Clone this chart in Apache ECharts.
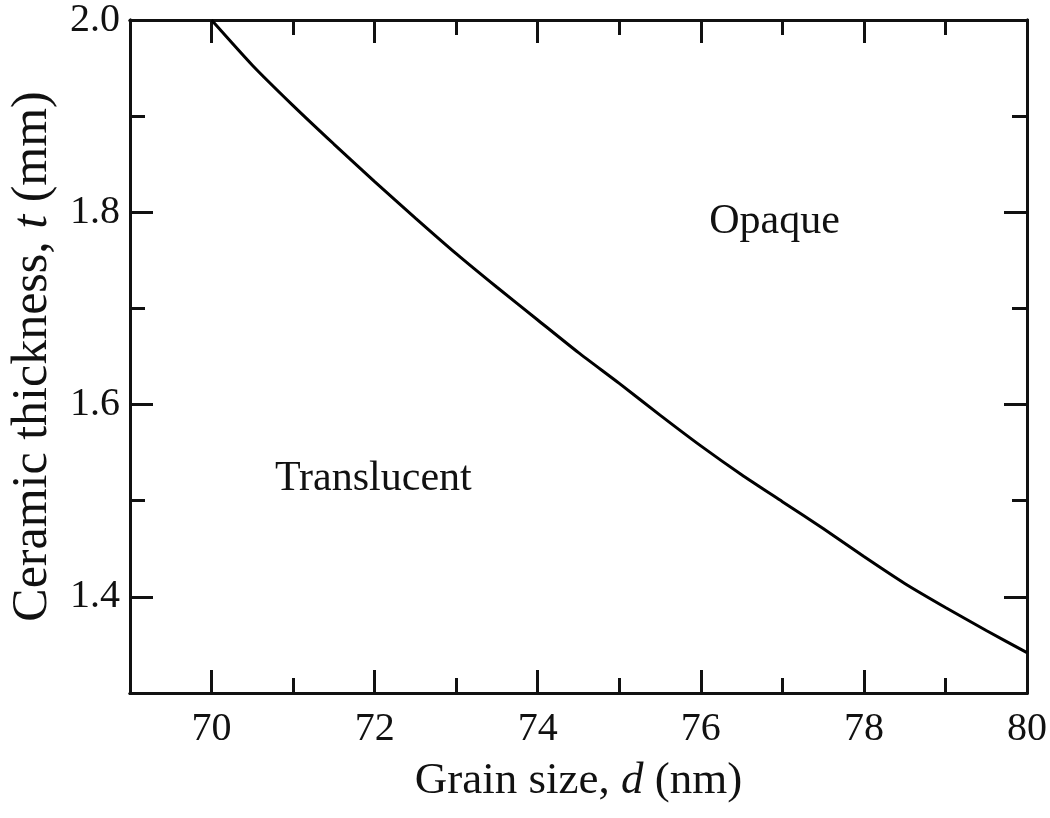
<!DOCTYPE html>
<html>
<head>
<meta charset="utf-8">
<script src="https://cdn.jsdelivr.net/npm/echarts@6/dist/echarts.min.js"></script>
<style>
html,body{margin:0;padding:0;background:#fff;}
#chart{width:1050px;height:818px;}
</style>
</head>
<body>
<div id="chart"></div>
<script>
// Data
const grainSize = [70, 70.5, 71, 71.5, 72, 72.5, 73, 73.5, 74, 74.5, 75, 75.5, 76, 76.5, 77, 77.5, 78, 78.5, 79, 79.5, 80];
const thickness = [2.000, 1.953, 1.911, 1.871, 1.832, 1.794, 1.757, 1.722, 1.688, 1.654, 1.622, 1.589, 1.557, 1.527, 1.499, 1.471, 1.442, 1.414, 1.389, 1.365, 1.342];
const xMajorTicks = [70, 72, 74, 76, 78, 80];
const xMinorTicks = [69, 71, 73, 75, 77, 79];
const yMajorTicks = [1.4, 1.6, 1.8, 2.0];
const yMinorTicks = [1.3, 1.5, 1.7, 1.9];
const regionNames = ['Opaque', 'Translucent'];
const regionX = [76.91, 71.99];
const regionY = [1.789, 1.522];

const FONT = "'Liberation Serif', 'DejaVu Serif', serif";
const lineStyle = { color: '#111', width: 3 };
const X = { min: 69, max: 80 };
const Y = { min: 1.3, max: 2.0 };

function xAx(pos, ticks, len, labels, extra) {
  return Object.assign({
    type: 'value', position: pos, min: X.min, max: X.max,
    axisLine: { show: true, onZero: false, lineStyle: lineStyle },
    axisTick: { show: true, inside: true, length: len, customValues: ticks, lineStyle: { color: '#111', width: 3 } },
    axisLabel: labels ? { show: true, customValues: ticks, margin: 16, color: '#111', fontFamily: FONT, fontSize: 40 } : { show: false },
    splitLine: { show: false }
  }, extra || {});
}
function yAx(pos, ticks, len, labels, extra) {
  return Object.assign({
    type: 'value', position: pos, min: Y.min, max: Y.max,
    axisLine: { show: true, onZero: false, lineStyle: lineStyle },
    axisTick: { show: true, inside: true, length: len, customValues: ticks, lineStyle: { color: '#111', width: 3 } },
    axisLabel: labels ? { show: true, customValues: ticks, margin: 10, color: '#111', fontFamily: FONT, fontSize: 40,
      formatter: v => v.toFixed(1) } : { show: false },
    splitLine: { show: false }
  }, extra || {});
}

const chart = echarts.init(document.getElementById('chart'), null, { renderer: 'canvas' });
chart.setOption({
  backgroundColor: '#fff',
  animation: false,
  grid: { left: 125.5, right: 21.5, top: 15, bottom: 125, containLabel: false },
  xAxis: [
    xAx('bottom', xMajorTicks, 23, true, {
      name: 'Grain size, {i|d} (nm)', nameLocation: 'middle', nameGap: 66,
      nameTextStyle: { color: '#111', fontFamily: FONT, fontSize: 45, verticalAlign: 'top',
        rich: { i: { fontStyle: 'italic', fontFamily: FONT, fontSize: 45, color: '#111' } } }
    }),
    xAx('bottom', xMinorTicks, 15, false),
    xAx('top', xMajorTicks, 23, false),
    xAx('top', xMinorTicks, 15, false)
  ],
  yAxis: [
    yAx('left', yMajorTicks, 23, true, {
      name: 'Ceramic thickness, {i|t} (mm)', nameLocation: 'middle', nameGap: 72,
      nameTextStyle: { color: '#111', fontFamily: FONT, fontSize: 50,
        rich: { i: { fontStyle: 'italic', fontFamily: FONT, fontSize: 50, color: '#111' } } }
    }),
    yAx('left', yMinorTicks, 15, false),
    yAx('right', yMajorTicks, 23, false),
    yAx('right', yMinorTicks, 15, false)
  ],
  series: [
    {
      type: 'line', xAxisIndex: 0, yAxisIndex: 0,
      data: grainSize.map((x, i) => [x, thickness[i]]),
      showSymbol: false, symbol: 'none', smooth: 0.2,
      lineStyle: { color: '#000', width: 3 }
    },
    {
      type: 'scatter', xAxisIndex: 0, yAxisIndex: 0, symbolSize: 1,
      itemStyle: { opacity: 0 },
      data: regionNames.map((n, i) => ({ name: n, value: [regionX[i], regionY[i]] })),
      label: { show: true, position: [0, 0], align: 'center', verticalAlign: 'middle',
        formatter: p => p.name, color: '#111', opacity: 1, fontFamily: FONT, fontSize: 42 }
    }
  ]
});
</script>
</body>
</html>
